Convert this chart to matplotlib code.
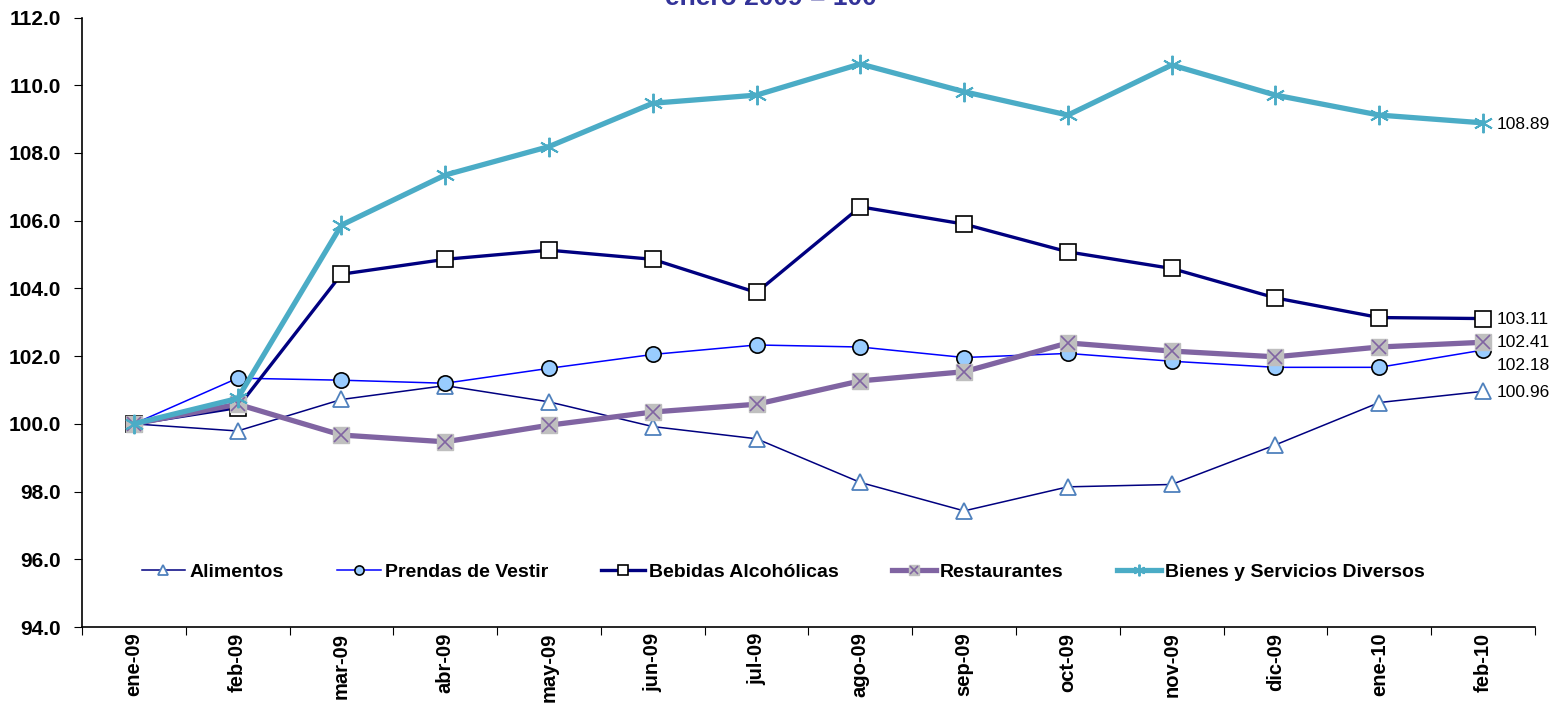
import matplotlib
matplotlib.use("Agg")
import matplotlib.pyplot as plt
from matplotlib.legend_handler import HandlerTuple

plt.rcParams["font.family"] = ["Liberation Sans", "DejaVu Sans"]

meses = ["ene-09", "feb-09", "mar-09", "abr-09", "may-09", "jun-09", "jul-09",
         "ago-09", "sep-09", "oct-09", "nov-09", "dic-09", "ene-10", "feb-10"]

alimentos = [100.0, 99.79, 100.72, 101.13, 100.65, 99.92, 99.56,
             98.27, 97.43, 98.14, 98.21, 99.38, 100.63, 100.96]
prendas = [100.0, 101.35, 101.29, 101.2, 101.64, 102.05, 102.33,
           102.27, 101.96, 102.08, 101.85, 101.67, 101.67, 102.18]
bebidas = [100.0, 100.48, 104.42, 104.86, 105.13, 104.86, 103.88,
           106.41, 105.9, 105.08, 104.59, 103.72, 103.14, 103.11]
restaurantes = [100.0, 100.58, 99.67, 99.47, 99.96, 100.35, 100.58,
                101.27, 101.54, 102.39, 102.15, 101.98, 102.27, 102.41]
bienes = [100.0, 100.75, 105.87, 107.35, 108.19, 109.47, 109.71,
          110.63, 109.81, 109.12, 110.6, 109.71, 109.12, 108.89]

nombres = ["Alimentos", "Prendas de Vestir", "Bebidas Alcohólicas",
           "Restaurantes", "Bienes y Servicios Diversos"]
etiquetas_fin = ["100.96", "102.18", "103.11", "102.41", "108.89"]

x = list(range(len(meses)))

fig = plt.figure(figsize=(15.52, 7.17), dpi=100)
ax = fig.add_axes([0.0528, 0.1255, 0.9362, 0.85])

h1, = ax.plot(x, alimentos, color="#000080", lw=1.1, marker="^", ms=11,
              mfc="white", mec="#4F81BD", mew=1.3, zorder=3)
h2, = ax.plot(x, prendas, color="#0000FF", lw=1.1, marker="o", ms=11,
              mfc="#99CCFF", mec="black", mew=1.2, zorder=4)
h3, = ax.plot(x, bebidas, color="#000080", lw=2.4, marker="s", ms=11,
              mfc="white", mec="black", mew=1.2, zorder=5)
h4a, = ax.plot(x, restaurantes, color="#8064A2", lw=3.8, marker="s", ms=11,
               mfc="#BFBFBF", mec="#BFBFBF", zorder=6)
h4b, = ax.plot(x, restaurantes, ls="none", marker="x", ms=10,
               mec="#8064A2", mew=1.2, zorder=7)
h5, = ax.plot(x, bienes, color="#4BACC6", lw=3.8, marker=(6, 2, 0), ms=14,
              mec="#4BACC6", mew=1.4, zorder=8)

# etiquetas del ultimo punto
offsets = [(10, -1), (10, -11), (10, -1), (10, 0), (10, -1)]
series = [alimentos, prendas, bebidas, restaurantes, bienes]
for s, txt, off in zip(series, etiquetas_fin, offsets):
    ax.annotate(txt, (x[-1], s[-1]), xytext=off, textcoords="offset points",
                va="center", ha="left", fontsize=12.5, color="black")

ax.set_xlim(-0.5, len(meses) - 0.5)
ax.set_ylim(94, 112)
ax.set_yticks([94 + 2 * i for i in range(10)])
ax.set_yticklabels([f"{94 + 2 * i:.1f}" for i in range(10)],
                   fontsize=15, fontweight="bold")

ax.set_xticks([i - 0.5 for i in range(len(meses) + 1)])
ax.set_xticklabels([])
ax.set_xticks(x, minor=True)
ax.set_xticklabels(meses, minor=True, rotation=90, fontsize=14.5,
                   fontweight="bold")
ax.tick_params(axis="x", which="minor", length=0, pad=4)
ax.tick_params(axis="x", which="major", length=6, direction="out")
ax.tick_params(axis="y", length=6, direction="out", pad=9)

for side in ["top", "right"]:
    ax.spines[side].set_visible(False)
for side in ["left", "bottom"]:
    ax.spines[side].set_color("black")
    ax.spines[side].set_linewidth(1.2)

leg = ax.legend([h1, h2, h3, (h4a, h4b), h5], nombres,
                handler_map={tuple: HandlerTuple(ndivide=1, pad=0)},
                loc="center left", bbox_to_anchor=(0.029, 0.09), ncol=5,
                frameon=False, handlelength=2.25, columnspacing=2.75,
                handletextpad=0.2, markerscale=0.6,
                prop={"weight": "bold", "size": 14})

fig.text(0.497, 0.9935, "enero 2009 = 100", ha="center", va="baseline",
         fontsize=19, fontweight="bold", color="#333399")

fig.savefig("out.png", dpi=100)
